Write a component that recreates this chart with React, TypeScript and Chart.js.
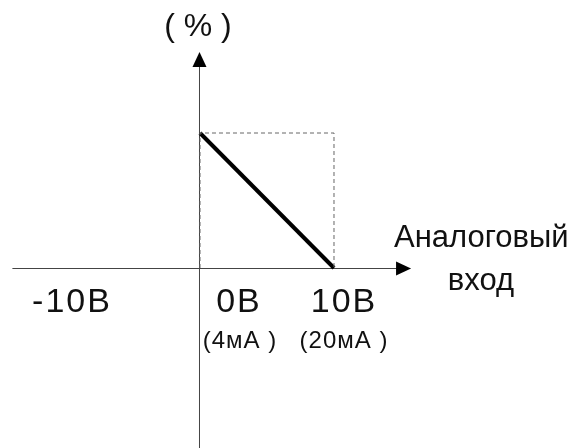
import React, { useEffect, useRef } from "react";
import { Chart, registerables } from "chart.js";

Chart.register(...registerables);

// Data
const inputValues = [0, 10];
const outputPercent = [100, 0];
const boxX = [0, 0, 10, 10];
const boxY = [0, 100, 100, 0];
const voltTicks = [-10, 0, 10];
const voltLabels = ["-10В", "0В", "10В"];
const currentTicks = [0, 10];
const currentLabels = ["(4мА )", "(20мА )"];
const yAxisTitle = "( % )";
const xAxisTitle = ["Аналоговый", "вход"];

const FONT = "'Liberation Sans', Arial, sans-serif";

export default function App() {
  const ref = useRef<HTMLCanvasElement>(null);

  useEffect(() => {
    const canvas = ref.current!;
    const plugin = {
      id: "axesArrows",
      beforeDatasetsDraw(chart: any) {
        const ctx = chart.ctx;
        const xs = chart.scales.x;
        const ys = chart.scales.y;
        const x0 = xs.getPixelForValue(0);
        const y0 = ys.getPixelForValue(0);
        ctx.save();
        ctx.strokeStyle = "#444";
        ctx.lineWidth = 1;
        ctx.beginPath();
        ctx.moveTo(xs.getPixelForValue(-14), y0 + 0.5);
        ctx.lineTo(xs.getPixelForValue(15), y0 + 0.5);
        ctx.moveTo(x0 - 0.5, ys.getPixelForValue(150));
        ctx.lineTo(x0 - 0.5, chart.height);
        ctx.stroke();
        ctx.restore();
      },
      afterDraw(chart: any) {
        const ctx = chart.ctx;
        const xs = chart.scales.x;
        const ys = chart.scales.y;
        const x0 = xs.getPixelForValue(0);
        const y0 = ys.getPixelForValue(0);
        ctx.save();
        ctx.fillStyle = "#000";
        // vertical arrow
        const vt = ys.getPixelForValue(160);
        ctx.beginPath();
        ctx.moveTo(x0 - 0.5, vt);
        ctx.lineTo(x0 - 7.5, vt + 15);
        ctx.lineTo(x0 + 6.5, vt + 15);
        ctx.closePath();
        ctx.fill();
        // horizontal arrow
        const ht = xs.getPixelForValue(15.75);
        ctx.beginPath();
        ctx.moveTo(ht, y0 + 0.5);
        ctx.lineTo(ht - 15, y0 - 6.5);
        ctx.lineTo(ht - 15, y0 + 7.5);
        ctx.closePath();
        ctx.fill();

        ctx.fillStyle = "#111";
        ctx.textBaseline = "alphabetic";
        // y title
        ctx.textAlign = "center";
        ctx.font = `32px ${FONT}`;
        ctx.fillText(yAxisTitle, x0 - 2, 36);
        // x title
        ctx.font = `31px ${FONT}`;
        ctx.textAlign = "left";
        ctx.fillText(xAxisTitle[0], 394, 247);
        ctx.textAlign = "center";
        ctx.fillText(xAxisTitle[1], 481, 290);
        // volt labels
        ctx.font = `34px ${FONT}`;
        (ctx as any).letterSpacing = "2px";
        const voltOffsets = [6, 39, 10];
        voltTicks.forEach((v, i) => {
          ctx.fillText(voltLabels[i], xs.getPixelForValue(v) + voltOffsets[i], 312);
        });
        // current labels
        ctx.font = `24px ${FONT}`;
        (ctx as any).letterSpacing = "1px";
        const curOffsets = [40, 10];
        currentTicks.forEach((v, i) => {
          ctx.fillText(currentLabels[i], xs.getPixelForValue(v) + curOffsets[i], 348);
        });
        (ctx as any).letterSpacing = "0px";
        ctx.restore();
      },
    };

    const chart = new Chart(canvas, {
      type: "scatter",
      data: {
        datasets: [
          {
            data: boxX.map((x, i) => ({ x, y: boxY[i] })),
            showLine: true,
            borderColor: "#666",
            borderWidth: 1,
            borderDash: [4, 3],
            pointRadius: 0,
            fill: false,
          },
          {
            data: inputValues.map((x, i) => ({ x, y: outputPercent[i] })),
            showLine: true,
            borderColor: "#000",
            borderWidth: 4,
            pointRadius: 0,
            fill: false,
          },
        ],
      },
      options: {
        responsive: false,
        maintainAspectRatio: false,
        animation: false,
        events: [],
        layout: { padding: 0 },
        plugins: { legend: { display: false }, tooltip: { enabled: false } },
        scales: {
          x: { type: "linear", display: false, min: -14.925, max: 28.358 },
          y: { type: "linear", display: false, min: -133.33, max: 198.52 },
        },
      },
      plugins: [plugin],
    });
    return () => chart.destroy();
  }, []);

  return (
    <div style={{ position: "fixed", left: 0, top: 0, width: 580, height: 448, background: "#fff" }}>
      <canvas ref={ref} width={580} height={448} style={{ display: "block" }} />
    </div>
  );
}
